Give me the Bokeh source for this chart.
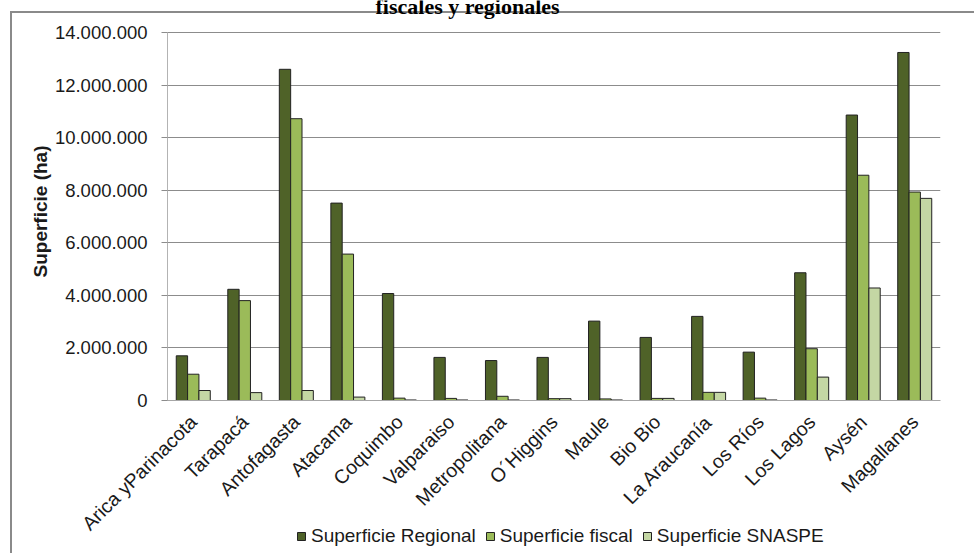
import math

from bokeh.embed import file_html
from bokeh.models import (ColumnDataSource, CustomJSTickFormatter, FixedTicker,
                          Label, Legend, LegendItem, Range1d)
from bokeh.plotting import figure
from bokeh.resources import INLINE
from bokeh.transform import dodge

# Surface per region (hectares)
regiones = ["Arica yParinacota", "Tarapacá", "Antofagasta", "Atacama", "Coquimbo",
            "Valparaiso", "Metropolitana", "O´Higgins", "Maule", "Bio Bio",
            "La Araucanía", "Los Ríos", "Los Lagos", "Aysén", "Magallanes"]
sup_regional = [1700000, 4230000, 12600000, 7510000, 4070000, 1640000, 1520000,
                1640000, 3020000, 2400000, 3200000, 1840000, 4860000, 10860000, 13240000]
sup_fiscal = [1000000, 3800000, 10720000, 5570000, 90000, 80000, 160000,
              70000, 60000, 80000, 310000, 90000, 1970000, 8570000, 7930000]
sup_snaspe = [380000, 300000, 380000, 130000, 20000, 20000, 20000,
              70000, 20000, 80000, 310000, 20000, 890000, 4280000, 7690000]

series_labels = ["Superficie Regional", "Superficie fiscal", "Superficie SNASPE"]
y_ticks = [0, 2000000, 4000000, 6000000, 8000000, 10000000, 12000000, 14000000]

n = len(regiones)
# category i occupies [i, i + 1]; its label sits at the centre
cat_pos = [i + 0.5 for i in range(n)]

source = ColumnDataSource(dict(pos=cat_pos, regional=sup_regional,
                               fiscal=sup_fiscal, snaspe=sup_snaspe))

FONT = "Liberation Sans"
TXT = "#1a1a1a"
colors = ["#4F6228", "#9BBB59", "#C4D7A4"]
fields = ["regional", "fiscal", "snaspe"]
bw = 0.22

# Page layout in pixels: the value area spans x 167..940 and y 32..400.
W, H = 974, 553
LEFT, RIGHT, TOP, ZERO = 167, 940, 32, 400
# The frame covers the whole page so that axis texts, title and legend are
# drawn inside it; the ranges are stretched to keep the value area in place.
px_per_cat = (RIGHT - LEFT) / n
x_lo = -LEFT / px_per_cat
y_max = y_ticks[-1]
y_top = y_max * ZERO / (ZERO - TOP)
y_min = -y_max * (H - ZERO) / (ZERO - TOP)

p = figure(x_range=Range1d(x_lo, n), y_range=Range1d(y_min, y_top),
           width=W, height=H, output_backend="svg", toolbar_location=None,
           min_border_left=0, min_border_right=W - RIGHT, min_border_top=0,
           min_border_bottom=0)
p.outline_line_color = None
p.background_fill_color = None
p.border_fill_color = None
# chart border: a grey L along the left and top edges
p.styles = {"box-shadow": "inset 10px 11px 0 0 #ffffff, inset 12px 13px 0 0 #8a8a8a",
            "background-color": "#ffffff"}

# title, its upper part running past the page top
p.add_layout(Label(x=375, y=H - 6, x_units="screen", y_units="screen",
                   text="fiscales y regionales", text_align="left",
                   text_baseline="alphabetic", text_font="Liberation Serif",
                   text_font_style="bold", text_font_size="22px",
                   text_color="#000000"))

# horizontal grid lines over the value area only
p.xgrid.visible = False
try:
    p.ygrid.cross_bounds = (0, n)
    p.ygrid.grid_line_color = "#8c8c8c"
    p.ygrid.grid_line_width = 1
except AttributeError:
    p.ygrid.visible = False
    p.segment(x0=[0] * len(y_ticks), x1=[n] * len(y_ticks), y0=y_ticks, y1=y_ticks,
              line_color="#8c8c8c", line_width=1)

renderers = []
for i, (f, c) in enumerate(zip(fields, colors)):
    r = p.vbar(x=dodge("pos", (i - 1) * bw), top=f, width=bw, source=source,
               fill_color=c, line_color="#222222", line_width=1)
    renderers.append(r)

# y axis, pinned to the left edge of the categories
ya = p.yaxis[0]
ya.fixed_location = 0
ya.ticker = FixedTicker(ticks=y_ticks)
ya.bounds = (0, y_max)
ya.formatter = CustomJSTickFormatter(
    code="return Math.round(tick).toString().replace(/\\B(?=(\\d{3})+(?!\\d))/g, '.');")
ya.axis_line_color = "#b3b3b3"
ya.major_tick_line_color = "#8c8c8c"
ya.major_tick_in = 0
ya.major_tick_out = 6
ya.minor_tick_line_color = None
ya.major_label_text_font = FONT
ya.major_label_text_font_size = "18.5px"
ya.major_label_text_color = TXT
ya.major_label_standoff = 14

p.add_layout(Label(x=40, y=H - 211, x_units="screen", y_units="screen",
                   text="Superficie (ha)", angle=math.pi / 2,
                   text_align="center", text_baseline="middle",
                   text_font=FONT, text_font_size="19px", text_font_style="bold",
                   text_color=TXT))

# x axis, pinned to zero
xa = p.xaxis[0]
xa.fixed_location = 0
xa.bounds = (0, n)
xa.ticker = FixedTicker(ticks=cat_pos)
xa.formatter = CustomJSTickFormatter(args=dict(labels=regiones),
                                     code="return labels[Math.round(tick - 0.5)] || '';")
xa.major_label_orientation = math.pi / 4
xa.major_tick_line_color = None
xa.minor_tick_line_color = None
xa.axis_line_color = "#a6a6a6"
xa.major_label_text_font = FONT
xa.major_label_text_font_size = "19.5px"
xa.major_label_text_color = TXT
xa.major_label_standoff = 12

# legend along the bottom
legend = Legend(items=[LegendItem(label=lab, renderers=[r])
                       for lab, r in zip(series_labels, renderers)],
                orientation="horizontal", location=(296, 6),
                glyph_width=10, glyph_height=10, label_standoff=5, spacing=9,
                padding=0, margin=0, border_line_color=None,
                background_fill_alpha=0,
                label_text_font=FONT, label_text_font_size="19px",
                label_text_color=TXT)
p.add_layout(legend, "center")

open("out.html", "w").write(file_html(p, INLINE))
